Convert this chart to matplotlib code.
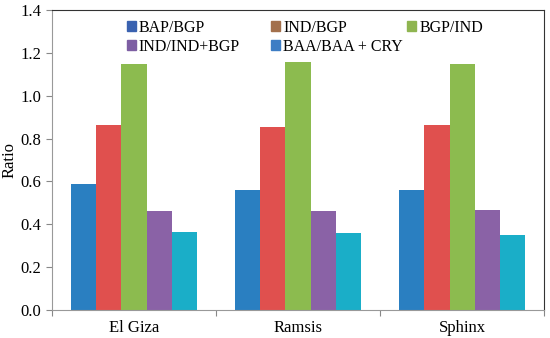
import numpy as np
import matplotlib.pyplot as plt
from matplotlib.legend import Legend

sites = ['El Giza', 'Ramsis', 'Sphinx']
series = ['BAP/BGP', 'IND/BGP', 'BGP/IND', 'IND/IND+BGP', 'BAA/BAA + CRY']
bap_bgp = [0.59, 0.56, 0.56]
ind_bgp = [0.865, 0.855, 0.865]
bgp_ind = [1.15, 1.16, 1.15]
ind_indbgp = [0.46, 0.46, 0.465]
baa_baacry = [0.365, 0.36, 0.35]

values = [bap_bgp, ind_bgp, bgp_ind, ind_indbgp, baa_baacry]
face = ['#2a7fc1', '#e0504e', '#8cbb4f', '#8a62a6', '#1aaec8']
legend_col = ['#3a62b0', '#a3704c', '#8fb550', '#7d5ea3', '#3d7dc4']

plt.rcParams['font.family'] = ['Liberation Serif', 'DejaVu Serif']

fig = plt.figure(figsize=(5.5, 3.38), dpi=100)
ax = fig.add_axes([0.0945, 0.083, 0.895, 0.887])

x = np.arange(len(sites))
w = 0.154
for i, vals in enumerate(values):
    ax.bar(x - 2 * w + i * w, vals, width=w, color=face[i], edgecolor='none',
           label=series[i])

ax.set_xlim(-0.5, 2.5)
ax.set_ylim(0, 1.4)
ticks = np.arange(0, 1.41, 0.2)
ax.set_yticks(ticks)
ax.set_yticklabels(['%.1f' % v for v in ticks], fontsize=12)
ax.set_xticks([-0.5, 0.5, 1.5, 2.5])
ax.set_xticklabels([])
ax.set_xticks(x, minor=True)
ax.set_xticklabels(sites, minor=True, fontsize=12)
ax.tick_params(axis='x', which='minor', length=0, pad=7)
ax.tick_params(axis='x', which='major', length=4, color='#888888')
ax.tick_params(axis='y', length=4, color='#888888')
ax.set_ylabel('Ratio', fontsize=12)
ax.yaxis.set_label_coords(-0.07, 0.5)

for s in ['left', 'bottom']:
    ax.spines[s].set_color('#999999')
for s in ['top', 'right']:
    ax.spines[s].set_color('#333333')

# legend laid out in three columns, filled row by row
handles = [plt.Rectangle((0, 0), 1, 1, color=c) for c in legend_col]
cols = [[0, 3], [1, 4], [2]]
xpos = [0.152, 0.445, 0.722]
for idx, xp in zip(cols, xpos):
    leg = Legend(ax, [handles[k] for k in idx], [series[k] for k in idx],
                 loc='upper left', bbox_to_anchor=(xp, 0.968),
                 frameon=False, fontsize=11.5, handlelength=0.55,
                 handleheight=0.55, handletextpad=0.2, labelspacing=0.2,
                 borderpad=0, borderaxespad=0)
    ax.add_artist(leg)

fig.savefig('out.png', dpi=100)
